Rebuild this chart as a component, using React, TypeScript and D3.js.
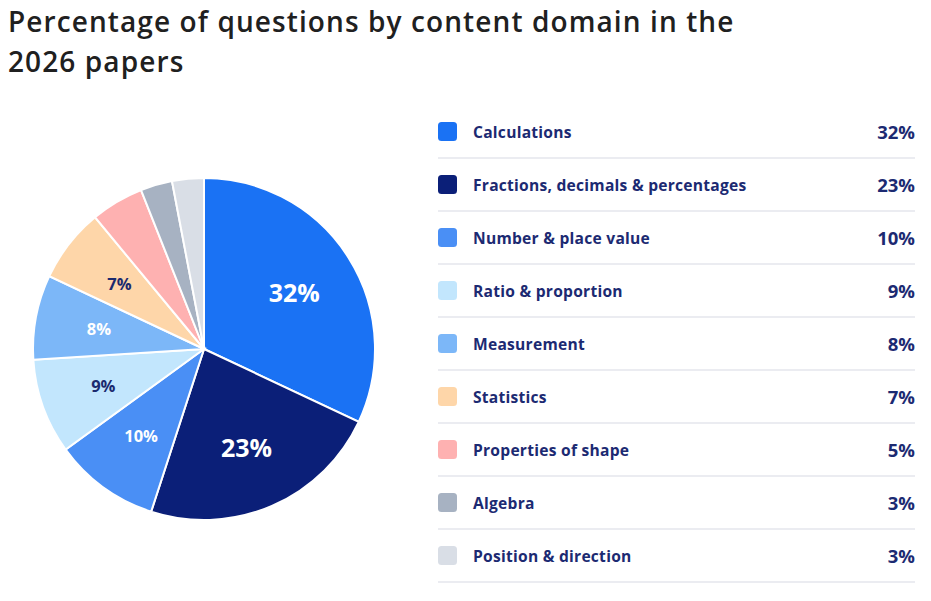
import React from "react";
import * as d3 from "d3";

const categories = [
  "Calculations",
  "Fractions, decimals & percentages",
  "Number & place value",
  "Ratio & proportion",
  "Measurement",
  "Statistics",
  "Properties of shape",
  "Algebra",
  "Position & direction",
];
const values = [32, 23, 10, 9, 8, 7, 5, 3, 3];
const colors = [
  "#1a72f4",
  "#0b1f78",
  "#4a8ff5",
  "#c2e6fd",
  "#7cb7f8",
  "#fed6a9",
  "#feb1b1",
  "#a7b2c2",
  "#d9dee6",
];
const labelColors = ["#ffffff", "#ffffff", "#ffffff", "#1b2a6e", "#ffffff", "#1b2a6e", "", "", ""];

const W = 931;
const H = 601;
const FONT = "'Open Sans', 'Noto Sans', sans-serif";
const NAVY = "#1c2a72";

export default function App() {
  const cx = 204;
  const cy = 349;
  const R = 171;
  const data = categories.map((c, i) => ({ c, v: values[i], i }));
  const pie = d3.pie<any>().value((d) => d.v).sort(null);
  const arcs = pie(data);
  const arc = d3.arc<any>().innerRadius(0).outerRadius(R);
  const labelArc = d3.arc<any>().innerRadius(107).outerRadius(107);

  const rowY = d3
    .scaleBand<number>()
    .domain(d3.range(categories.length))
    .range([105, 582])
    .paddingInner(0)
    .paddingOuter(0);

  return (
    <svg
      width={W}
      height={H}
      style={{ position: "absolute", left: 0, top: 0, background: "#fff" }}
    >
      <text x={8} y={32} fontFamily={FONT} fontWeight={600} fontSize={28} letterSpacing={1.1} fill="#202020">
        Percentage of questions by content domain in the
      </text>
      <text x={8} y={72} fontFamily={FONT} fontWeight={600} fontSize={28} letterSpacing={1.1} fill="#202020">
        2026 papers
      </text>

      <g transform={`translate(${cx},${cy})`}>
        {arcs.map((a, i) => (
          <path key={i} d={arc(a) as string} fill={colors[i]} stroke="#fff" strokeWidth={2} />
        ))}
        {arcs.map((a, i) => {
          if (values[i] < 7) return null;
          const [x, y] = labelArc.centroid(a);
          const big = values[i] >= 20;
          return (
            <text
              key={"l" + i}
              x={x}
              y={y}
              textAnchor="middle"
              dominantBaseline="central"
              fontFamily={FONT}
              fontWeight={700}
              fontSize={big ? 25 : 16.5}
              fill={labelColors[i]}
            >
              {values[i]}%
            </text>
          );
        })}
      </g>

      {categories.map((c, i) => {
        const y0 = rowY(i)!;
        const bw = rowY.bandwidth();
        const yc = y0 + bw / 2;
        return (
          <g key={"r" + i}>
            <rect x={438} y={yc - 9.5} width={19} height={19} rx={3.5} fill={colors[i]} />
            <text
              x={473}
              y={yc}
              dominantBaseline="central"
              fontFamily={FONT}
              fontWeight={700}
              fontSize={15.6}
              letterSpacing={0.25}
              fill={NAVY}
            >
              {c}
            </text>
            <text
              x={915}
              y={yc}
              dominantBaseline="central"
              textAnchor="end"
              fontFamily={FONT}
              fontWeight={700}
              fontSize={18.5}
              fill={NAVY}
            >
              {values[i]}%
            </text>
            <line x1={438} x2={915} y1={y0 + bw} y2={y0 + bw} stroke="#e4e6ec" strokeWidth={1.5} />
          </g>
        );
      })}
    </svg>
  );
}
